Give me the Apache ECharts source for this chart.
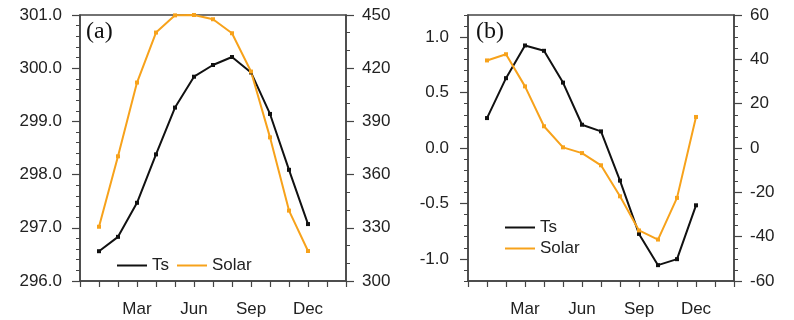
<!DOCTYPE html>
<html><head><meta charset="utf-8">
<script src="https://cdn.jsdelivr.net/npm/echarts@6/dist/echarts.min.js"></script>
<style>html,body{margin:0;padding:0;background:#fff}#c{width:794px;height:320px}</style>
</head><body><div id="c"></div><script>
const months = ['Jan','Feb','Mar','Apr','May','Jun','Jul','Aug','Sep','Oct','Nov','Dec'];
const monthTickLabels = {3:'Mar', 6:'Jun', 9:'Sep', 12:'Dec'};
const tsA = [296.56,296.83,297.47,298.38,299.26,299.84,300.06,300.21,299.92,299.14,298.09,297.07];
const solarA = [330.6,370.3,411.9,440.1,449.8,450.0,447.6,439.7,418.1,381.0,339.7,316.9];
const tsB = [0.27,0.63,0.925,0.877,0.59,0.21,0.15,-0.294,-0.775,-1.057,-1.003,-0.517];
const solarB = [39.5,42.3,27.8,9.8,0.3,-2.3,-7.8,-21.8,-37.2,-41.3,-22.5,14.0];

const BLACK = '#111', ORANGE = '#f7a21b', AX = '#444';
const FONT = 'Liberation Sans, Arial, Helvetica, sans-serif';
const pts = arr => arr.map((v,i)=>[i+1, v]);

// panel (b) left axis: range -1.2..1.2 in a 266px grid; labelled ticks -1.0..1.0
const B_TOP = 15, B_H = 266, B_MIN = -1.2, B_MAX = 1.2;
const pxPerUnit = B_H / (B_MAX - B_MIN);
const innerTop = B_TOP + (B_MAX - 1.0) * pxPerUnit;
const innerH = 2.0 * pxPerUnit;

function xAxis(g){
  return {type:'value', gridIndex:g, min:0, max:14, interval:1,
    axisLine:{show:true, onZero:false, lineStyle:{color:AX, width:1.5}},
    axisTick:{show:true, inside:false, length:6, lineStyle:{color:AX, width:1.2}},
    axisLabel:{show:true, margin:20, fontSize:17, color:'#222', fontFamily:FONT,
      formatter:v=>monthTickLabels[v]||''},
    splitLine:{show:false}};
}
function yAxis(g, pos, opts){
  return Object.assign({type:'value', gridIndex:g, position:pos,
    axisLine:{show:true, onZero:false, lineStyle:{color:AX, width:1.5}},
    axisTick:{show:true, inside:false, length:8, lineStyle:{color:AX, width:1.2}},
    minorTick:{show:true, length:4, lineStyle:{color:AX, width:1}},
    splitLine:{show:false}}, opts);
}
function lbl(margin, fmt){
  return {show:true, margin:margin, fontSize:17, color:'#222', fontFamily:FONT, formatter:fmt};
}
function series(name, data, xi, yi, color){
  return {type:'line', name:name, xAxisIndex:xi, yAxisIndex:yi, data:data,
    symbol:'rect', symbolSize:4, color:color,
    lineStyle:{color:color, width:2}, itemStyle:{color:color}, animation:false};
}

const chart = echarts.init(document.getElementById('c'));
chart.setOption({
  animation:false,
  grid:[
    {left:80, top:15, width:266, height:266, show:true, borderColor:AX, borderWidth:1.5},
    {left:468, top:B_TOP, width:266, height:B_H, show:true, borderColor:AX, borderWidth:1.5},
    {left:468, top:innerTop, width:266, height:innerH, show:false}
  ],
  xAxis:[xAxis(0), xAxis(1), {type:'value', gridIndex:2, min:0, max:14, show:false}],
  yAxis:[
    yAxis(0,'left',{min:296, max:301, interval:1, minorTick:{show:true, splitNumber:5, length:4, lineStyle:{color:AX,width:1}},
      axisLabel:lbl(18, v=>v.toFixed(1))}),
    yAxis(0,'right',{min:300, max:450, interval:30, minorTick:{show:true, splitNumber:3, length:4, lineStyle:{color:AX,width:1}},
      axisLabel:lbl(16, v=>String(v))}),
    yAxis(1,'left',{min:B_MIN, max:B_MAX, interval:0.1, minorTick:{show:false},
      axisTick:{show:true, inside:false, length:4, lineStyle:{color:AX, width:1}},
      axisLabel:{show:false}}),
    yAxis(1,'right',{min:-60, max:60, interval:20, minorTick:{show:true, splitNumber:4, length:4, lineStyle:{color:AX,width:1}},
      axisLabel:lbl(16, v=>String(v))}),
    {type:'value', gridIndex:2, position:'left', min:-1.0, max:1.0, interval:0.5,
      axisLine:{show:false, onZero:false}, splitLine:{show:false},
      axisTick:{show:true, inside:false, length:8, lineStyle:{color:AX, width:1.2}},
      axisLabel:lbl(19, v=>v.toFixed(1))}
  ],
  legend:[
    {left:117, top:257, orient:'horizontal', padding:0, itemGap:8, itemWidth:30, itemHeight:2, icon:'rect',
      textStyle:{fontSize:17, color:'#222', fontFamily:FONT, lineHeight:17}, data:['Ts','Solar'], selectedMode:false},
    {left:505, top:219, orient:'vertical', padding:0, itemGap:4, itemWidth:30, itemHeight:2, icon:'rect',
      textStyle:{fontSize:17, color:'#222', fontFamily:FONT, lineHeight:17}, data:['Ts','Solar'], selectedMode:false}
  ],
  graphic:[
    {type:'text', left:86, top:20, style:{text:'(a)', font:'24px "Liberation Serif", "Times New Roman", serif', fill:'#111'}},
    {type:'text', left:476, top:20, style:{text:'(b)', font:'24px "Liberation Serif", "Times New Roman", serif', fill:'#111'}}
  ],
  series:[
    series('Ts', pts(tsA), 0, 0, BLACK),
    series('Solar', pts(solarA), 0, 1, ORANGE),
    series('Ts', pts(tsB), 1, 2, BLACK),
    series('Solar', pts(solarB), 1, 3, ORANGE)
  ]
});
</script></body></html>
